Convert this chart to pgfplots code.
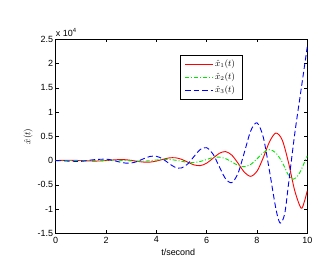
\documentclass[border=0pt]{standalone}
\usepackage{pgfplots}
\pgfplotsset{compat=1.18}
\usepackage{fontspec}
\setmainfont{Liberation Sans}
\definecolor{mred}{RGB}{255,0,0}
\definecolor{mgreen}{RGB}{0,230,0}
\definecolor{mblue}{RGB}{0,0,255}
\begin{document}
\begin{tikzpicture}
\begin{axis}[
  name=ax,
  scale only axis,
  width=251.6bp, height=194bp,
  xmin=0, xmax=10, ymin=-1.5, ymax=2.5,
  xtick={0,2,4,6,8,10},
  ytick={-1.5,-1,-0.5,0,0.5,1,1.5,2,2.5},
  yticklabels={-1.5,-1,-0.5,0,0.5,1,1.5,2,2.5},
  tick align=inside,
  major tick length=3bp,
  axis line style={line width=0.8pt},
  every tick/.style={black,line width=0.5pt},
  tick label style={font=\fontsize{9}{10}\selectfont},
  yticklabel style={xshift=1bp},
  /pgf/number format/assume math mode=true,
  xlabel={t/second},
  ylabel={$\hat{x}(t)$},
  label style={font=\fontsize{9}{10}\selectfont},
  xlabel style={at={(axis description cs:0.487,-0.10)},anchor=center},
  ylabel style={at={(axis description cs:-0.11,0.5)},anchor=center},
]
\addplot[draw=mred, line width=0.9pt, smooth] coordinates {
(0,0.000)(0.5,0.006)(1,0.000)(1.25,-0.007)(1.5,-0.011)(1.75,-0.009)(2,-0.001)(2.25,0.011)(2.5,0.019)(2.75,0.018)(3,0.004)(3.25,-0.016)(3.5,-0.032)(3.75,-0.032)(4,-0.011)(4.25,0.024)(4.5,0.054)(4.75,0.058)(5,0.026)(5.25,-0.034)(5.5,-0.090)(5.75,-0.104)(6,-0.054)(6.25,0.046)(6.5,0.148)(6.75,0.185)(7,0.112)(7.25,-0.057)(7.5,-0.241)(7.75,-0.325)(8,-0.222)(8.25,0.059)(8.5,0.389)(8.75,0.567)(9,0.428)(9.25,-0.034)(9.5,-0.62)(9.75,-0.98)(9.875,-0.86)(10,-0.62)
};
\addplot[draw=mgreen, line width=0.9pt, smooth, dash pattern=on 4bp off 2bp on 1bp off 2bp] coordinates {
(0,0)(1,0.000)(2,0.0045)(2.5,0.0066)(3,-0.007)(3.5,-0.012)(4,0.0105)(4.25,0.022)(4.5,0.022)(4.75,0.008)(5,-0.015)(5.25,-0.037)(5.5,-0.040)(5.75,-0.019)(6,0.022)(6.25,0.061)(6.5,0.072)(6.75,0.040)(7,-0.029)(7.25,-0.100)(7.5,-0.127)(7.75,-0.080)(8,0.034)(8.25,0.162)(8.5,0.224)(8.75,0.158)(9,-0.032)(9.25,-0.30)(9.45,-0.385)(9.625,-0.31)(9.75,-0.20)(9.875,-0.05)(10,0.10)
};
\addplot[draw=mblue, line width=0.9pt, smooth, dash pattern=on 5.5bp off 3bp] coordinates {
(0,0)(0.5,-0.011)(1,-0.017)(1.5,0.017)(2,0.029)(2.25,0.007)(2.5,-0.025)(2.75,-0.051)(3,-0.051)(3.25,-0.017)(3.5,0.039)(3.75,0.085)(4,0.088)(4.25,0.035)(4.5,-0.058)(4.75,-0.140)(5,-0.153)(5.25,-0.069)(5.5,0.085)(5.75,0.230)(6,0.265)(6.25,0.135)(6.5,-0.122)(6.75,-0.375)(7,-0.455)(7.25,-0.257)(7.5,0.170)(7.75,0.610)(8,0.778)(8.25,0.482)(8.5,-0.223)(8.75,-0.99)(8.92,-1.29)(9.1,-1.1)(9.25,-0.5)(9.5,0.55)(9.75,1.45)(10,2.35)
};
\end{axis}
% legend
\draw[line width=0.8pt, fill=white] ([shift={(124.3bp,-16.4bp)}]ax.north west) rectangle ([shift={(187bp,-59.7bp)}]ax.north west);
\draw[mred, line width=0.9pt] ([shift={(129.3bp,-25bp)}]ax.north west) -- ++(27.7bp,0);
\draw[mgreen, line width=0.9pt, dash pattern=on 4bp off 2bp on 1bp off 2bp] ([shift={(129.3bp,-38bp)}]ax.north west) -- ++(27.7bp,0);
\draw[mblue, line width=0.9pt, dash pattern=on 5.5bp off 3bp] ([shift={(129.3bp,-50.7bp)}]ax.north west) -- ++(27.7bp,0);
\node[anchor=west, font=\fontsize{9}{10}\selectfont, inner sep=0pt] at ([shift={(159.3bp,-25bp)}]ax.north west) {$\hat{x}_1(t)$};
\node[anchor=west, font=\fontsize{9}{10}\selectfont, inner sep=0pt] at ([shift={(159.3bp,-38bp)}]ax.north west) {$\hat{x}_2(t)$};
\node[anchor=west, font=\fontsize{9}{10}\selectfont, inner sep=0pt] at ([shift={(159.3bp,-50.7bp)}]ax.north west) {$\hat{x}_3(t)$};
\node[anchor=south west, font=\fontsize{9}{10}\selectfont, inner sep=0pt] at ([xshift=0bp,yshift=2.5bp]ax.north west) {x 10\textsuperscript{4}};
\path (ax.south west) ++(-55.7bp,-35.7bp) rectangle ++(330bp,269bp);
\end{tikzpicture}
\end{document}
